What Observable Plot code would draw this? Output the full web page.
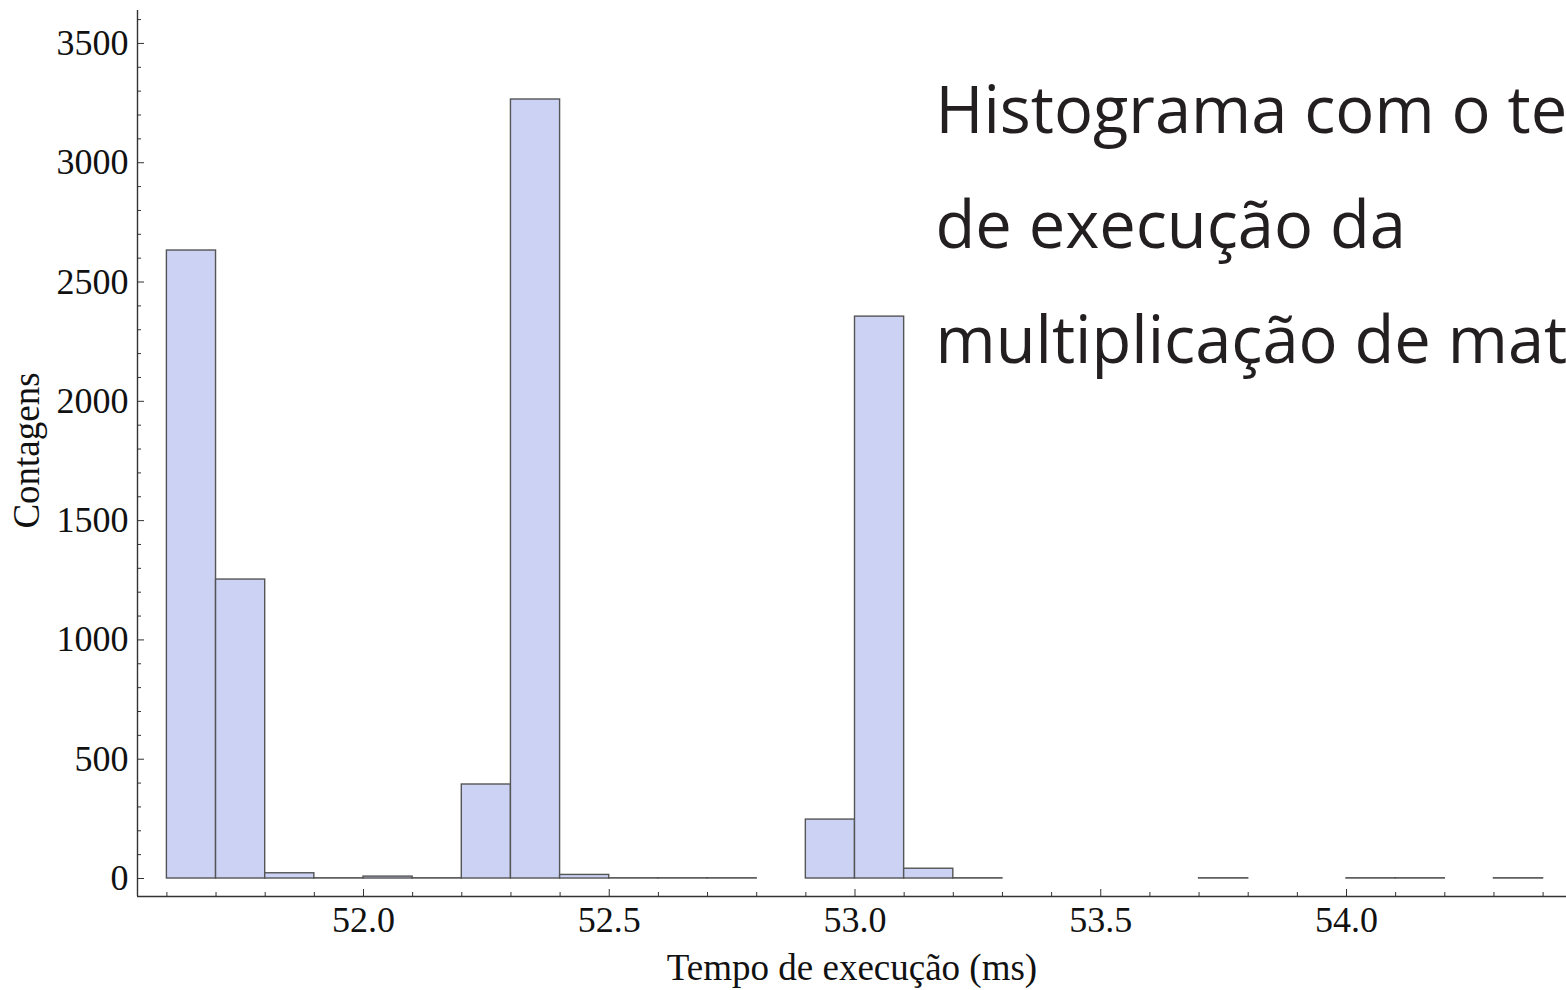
<!DOCTYPE html>
<html>
<head>
<meta charset="utf-8">
<script src="https://cdn.jsdelivr.net/npm/d3@7"></script>
<script src="https://cdn.jsdelivr.net/npm/@observablehq/plot@0.6"></script>
<style>
  html, body { margin: 0; padding: 0; background: #fff; overflow: hidden; }
  svg { display: block; }
</style>
</head>
<body>
<script>
// Histogram bins (start of each 0.1 ms bin) and their counts
const binStarts = [51.6, 51.7, 51.8, 51.9, 52.0, 52.1, 52.2, 52.3, 52.4, 52.5, 52.6, 52.7, 52.9, 53.0, 53.1, 53.2, 53.7, 54.0, 54.1, 54.3];
const counts    = [2632, 1253,   22,    1,    8,    1,  394, 3265,   15,    1,    1,    1,  247, 2355,   41,    1,    1,    1,    1,    1];
const binWidth = 0.1;

// Axis ticks
const xMajorTicks = [52.0, 52.5, 53.0, 53.5, 54.0];
const xMinorTicks = [51.6, 51.7, 51.8, 51.9, 52.1, 52.2, 52.3, 52.4, 52.6, 52.7, 52.8, 52.9, 53.1, 53.2, 53.3, 53.4, 53.6, 53.7, 53.8, 53.9, 54.1, 54.2, 54.3, 54.4];
const yMajorTicks = [0, 500, 1000, 1500, 2000, 2500, 3000, 3500];
const yMinorTicks = [100, 200, 300, 400, 600, 700, 800, 900, 1100, 1200, 1300, 1400, 1600, 1700, 1800, 1900, 2100, 2200, 2300, 2400, 2600, 2700, 2800, 2900, 3100, 3200, 3300, 3400, 3600];

const xDomain = [51.5402, 54.4476];
const yDomain = [-75.4, 3638];

const xLabel = "Tempo de execução (ms)";
const yLabel = "Contagens";
const titleLines = ["Histograma com o tempo", "de execução da", "multiplicação de matrizes"];

const bins = binStarts.map((s, i) => ({x1: s, x2: +(s + binWidth).toFixed(2), count: counts[i]}));

const axisColor = "#333";
const serif = "'Liberation Serif', 'Times New Roman', serif";

const chart = Plot.plot({
  width: 1566,
  height: 990,
  marginLeft: 137,
  marginRight: 0,
  marginTop: 10,
  marginBottom: 94,
  x: {domain: xDomain, axis: null},
  y: {domain: yDomain, axis: null},
  style: {background: "#fff", fontFamily: serif, fontSize: "36px", color: "#111", overflow: "hidden"},
  marks: [
    Plot.rectY(bins, {x1: "x1", x2: "x2", y: "count", fill: "#cbd2f4", stroke: "#555", strokeWidth: 1.4, inset: 0}),
    // axis lines
    Plot.ruleX([xDomain[0]], {stroke: axisColor, strokeWidth: 1.4}),
    Plot.ruleY([yDomain[0]], {stroke: axisColor, strokeWidth: 1.4}),
    // y ticks (inward) and labels
    Plot.axisY(yMajorTicks, {anchor: "left", tickSize: -7, fill: "none", stroke: axisColor, label: null}),
    Plot.axisY(yMinorTicks, {anchor: "left", tickSize: -4, fill: "none", stroke: axisColor, label: null}),
    Plot.axisY(yMajorTicks, {anchor: "left", tickSize: 0, tickPadding: 9, tickFormat: d => `${d}`, fontSize: 36, fill: "#111", label: null}),
    // x ticks (inward) and labels
    Plot.axisX(xMajorTicks, {anchor: "bottom", tickSize: -7, fill: "none", stroke: axisColor, label: null}),
    Plot.axisX(xMinorTicks, {anchor: "bottom", tickSize: -4, fill: "none", stroke: axisColor, label: null}),
    Plot.axisX(xMajorTicks, {anchor: "bottom", tickSize: 0, tickPadding: 10, tickFormat: d => d.toFixed(1), fontSize: 36, fill: "#111", label: null}),
    // axis titles
    Plot.text([xLabel], {text: d => d, frameAnchor: "bottom", dy: 72, fontSize: 37, fill: "#111", textAnchor: "middle", lineAnchor: "middle"}),
    Plot.text([yLabel], {text: d => d, frameAnchor: "left", dx: -110, dy: -3, rotate: -90, fontSize: 37, fill: "#111", textAnchor: "middle", lineAnchor: "middle"}),
    // overlaid slide title
    Plot.text([titleLines.join("\n")], {text: d => d, frameAnchor: "top-left", dx: 798, dy: 352, textAnchor: "start", lineAnchor: "bottom", lineHeight: 1.769, fontSize: 65, fontFamily: "'Open Sans', Lato, sans-serif", fill: "#231f20"})
  ]
});

document.body.appendChild(chart);
</script>
</body>
</html>
